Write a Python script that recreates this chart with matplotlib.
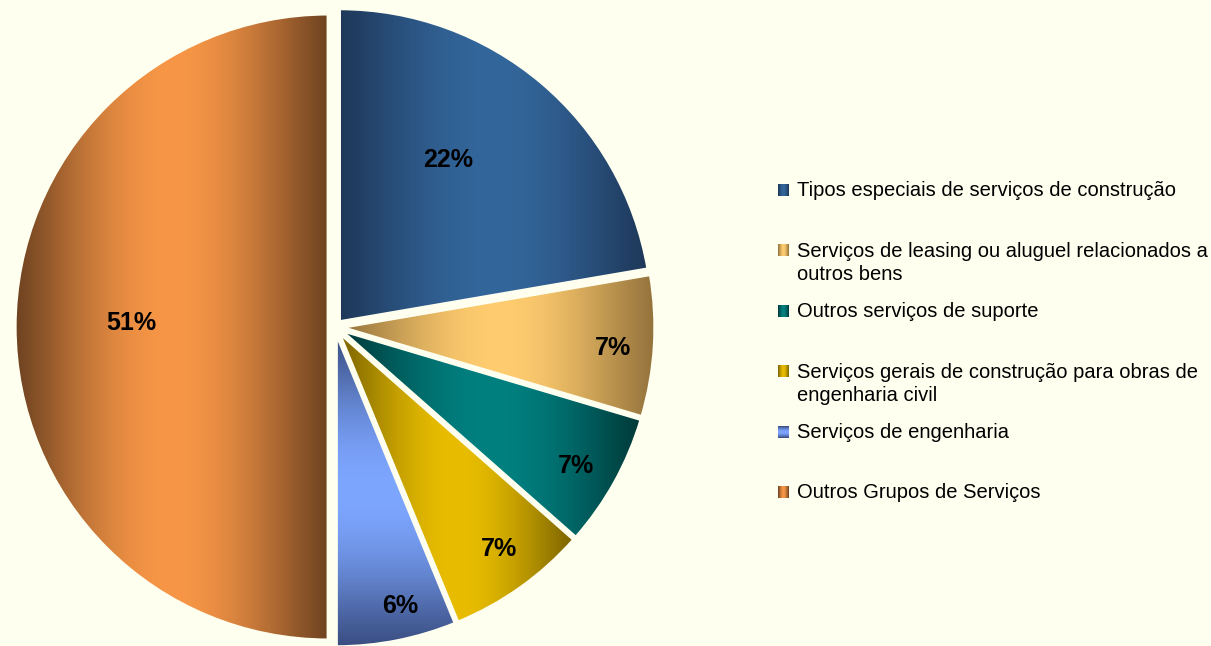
import numpy as np
import matplotlib.pyplot as plt
from matplotlib.colors import to_rgb

# Slice data (clockwise from 12 o'clock)
categories = [
    'Tipos especiais de serviços de construção',
    'Serviços de leasing ou aluguel relacionados a\noutros bens',
    'Outros serviços de suporte',
    'Serviços gerais de construção para obras de\nengenharia civil',
    'Serviços de engenharia',
    'Outros Grupos de Serviços',
]
shares = [22.3, 7.3, 6.9, 7.3, 6.2, 50.0]
pct_labels = ['22%', '7%', '7%', '7%', '6%', '51%']

# gradient colours: dark edges, bright middle
dark_colors = ['#1e3859', '#94733c', '#003a3a', '#7d6500', '#3a4e82', '#6f4321']
light_colors = ['#33669b', '#ffcc6f', '#008080', '#e8bd00', '#7da6ff', '#f79646']
vertical = [False, False, False, False, True, False]

BG = '#fffff0'
W, H = 1211, 646
S = 313.0            # pixels per unit radius
CX, CY = 335, 327    # pie centre, pixels from top-left

FONT = ['Liberation Sans', 'DejaVu Sans']


def P(x, y):
    # pixel position -> data coords of the pie axes
    return (x - CX) / S, (CY - y) / S


def ramp(c0, c1, n=256):
    t = np.linspace(0, 1, n)
    s = np.sin(np.pi * t) ** 1.15
    a, b = np.array(to_rgb(c0)), np.array(to_rgb(c1))
    return a + (b - a) * s[:, None]


fig = plt.figure(figsize=(W / 100, H / 100), dpi=100, facecolor=BG)
ax = fig.add_axes([0, 0, 1, 1])
ax.set_facecolor(BG)

wedges, _ = ax.pie(shares, startangle=90, counterclock=False, radius=1,
                   explode=[0.022] * len(shares),
                   wedgeprops=dict(linewidth=0))

# gradient fill clipped to each wedge, cream outline on top
for w, c0, c1, vert in zip(wedges, dark_colors, light_colors, vertical):
    ext = w.get_path().get_extents()
    g = ramp(c0, c1)
    img = g[:, None, :] if vert else g[None, :, :]
    im = ax.imshow(img, extent=[ext.x0, ext.x1, ext.y0, ext.y1],
                   aspect='auto', interpolation='bilinear', zorder=2)
    im.set_clip_path(w)
    w.set_facecolor('none')
    w.set_edgecolor(BG)
    w.set_linewidth(2.2)
    w.set_zorder(3)

# percentage labels
label_r = [0.644, 0.89, 0.89, 0.88, 0.917, 0.652]
label_turn = [6, -1, -1, 1, 2, -1]
for w, txt, r, dt in zip(wedges, pct_labels, label_r, label_turn):
    a = np.deg2rad((w.theta1 + w.theta2) / 2 + dt)
    ax.text(r * np.cos(a), r * np.sin(a), txt, ha='center', va='center',
            fontsize=18, fontweight='bold', family=FONT, zorder=4)

# legend, drawn by hand
leg_y0, leg_step, line_step = 190, 60.4, 23
for i, (lab, c0, c1, vert) in enumerate(zip(categories, dark_colors,
                                             light_colors, vertical)):
    yc = leg_y0 + i * leg_step
    x0, y0 = P(778, yc + 6)
    x1, y1 = P(789, yc - 6)
    g = ramp(c0, c1, 32)
    img = g[:, None, :] if vert else g[None, :, :]
    ax.imshow(img, extent=[x0, x1, y0, y1], aspect='auto',
              interpolation='bilinear', zorder=2)
    for k, line in enumerate(lab.split('\n')):
        ax.text(*P(797, yc + k * line_step + 6.5), line, ha='left',
                va='baseline', fontsize=14.5, family=FONT, color='#000000')

ax.set_xlim(-CX / S, (W - CX) / S)
ax.set_ylim(-(H - CY) / S, CY / S)
ax.set_aspect('auto')
ax.axis('off')

fig.savefig('out.png', dpi=100, facecolor=BG)
